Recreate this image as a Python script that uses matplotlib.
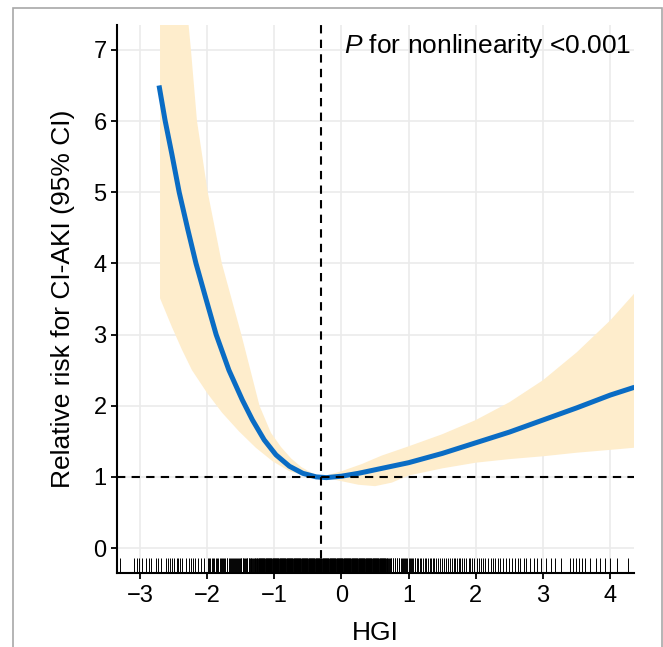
import numpy as np
import matplotlib
matplotlib.use("Agg")
import matplotlib.pyplot as plt
import matplotlib.transforms as mtransforms
from matplotlib.patches import Rectangle

plt.rcParams['font.family'] = ['Liberation Sans', 'DejaVu Sans']
plt.rcParams['mathtext.fontset'] = 'custom'
plt.rcParams['mathtext.rm'] = 'Liberation Sans'
plt.rcParams['mathtext.it'] = 'Liberation Sans:italic'

##### spline estimate
curve_x = [-2.715, -2.625, -2.525, -2.415, -2.285, -2.165, -2.025, -1.865, -1.675, -1.475,
           -1.325, -1.15, -0.975, -0.775, -0.575, -0.375, -0.225, 0.0, 0.25, 0.5, 0.75,
           1.0, 1.5, 2.0, 2.5, 3.0, 3.5, 4.0, 4.36]
curve_y = [6.50, 6.01, 5.54, 5.00, 4.47, 4.00, 3.53, 3.00, 2.50, 2.08,
           1.80, 1.52, 1.31, 1.15, 1.05, 1.00, 0.99, 1.01, 1.05, 1.10, 1.15,
           1.20, 1.33, 1.48, 1.63, 1.80, 1.97, 2.15, 2.26]

##### 95% CI, upper and lower edges
upper_x = [-2.70, -2.50, -2.40, -2.275, -2.24, -2.15, -1.99, -1.78, -1.49, -1.22,
           -1.05, -0.90, -0.75, -0.60, -0.45, -0.30, 0.0, 0.3, 0.6, 1.0, 1.5, 2.0, 2.5,
           3.0, 3.5, 4.0, 4.36]
upper_y = [11.5, 9.0, 8.2, 7.35, 7.0, 6.0, 5.0, 4.0, 3.0, 2.0,
           1.62, 1.42, 1.26, 1.14, 1.06, 1.00, 1.08, 1.18, 1.30, 1.43, 1.60, 1.80, 2.05,
           2.36, 2.75, 3.20, 3.58]
lower_x = [-2.70, -2.525, -2.375, -2.225, -2.0, -1.775, -1.525, -1.275, -1.025, -0.775,
           -0.525, -0.30, 0.0, 0.25, 0.5, 0.75, 1.0, 1.5, 2.0, 2.5, 3.0, 3.5, 4.0, 4.36]
lower_y = [3.51, 3.11, 2.79, 2.50, 2.18, 1.90, 1.64, 1.41, 1.22, 1.08,
           1.01, 1.00, 0.94, 0.89, 0.87, 0.92, 1.02, 1.12, 1.20, 1.25, 1.29, 1.34, 1.38, 1.41]

ref_x = -0.30  # reference HGI value
ref_y = 1.0

##### rug (observed HGI values)
rug_sparse = [-3.30, -3.09, -3.05, -3.01, -2.97, -2.91, -2.86, -2.83, -2.76, -2.73, -2.69,
              -2.61, -2.58, -2.55, -2.52, -2.49, -2.45, -2.43, -2.40, -2.37, -2.31, -2.27,
              -2.24, -2.21, -2.18, -2.13, -2.09, -2.05, -1.99, -1.97, -1.95, -1.93, -1.91,
              -1.89, -1.87, -1.85, -1.83, -1.81, -1.80, -1.78, -1.76, -1.75, -1.73, -1.71,
              -1.70, -1.68, -1.66, -1.65, -1.63, -1.62, -1.60, -1.59, -1.57, -1.56, -1.54,
              -1.53, -1.51, -1.50, -1.49, -1.47, -1.46, -1.45, -1.43, -1.42, -1.41, -1.40,
              -1.38, -1.37, -1.36, -1.35, -1.34, -1.33, -1.31, -1.30, -1.29, -1.28, -1.27,
              -1.26,
              0.69, 0.70, 0.72, 0.73, 0.74, 0.76, 0.77, 0.79, 0.80, 0.82, 0.83, 0.85, 0.86,
              0.88, 0.90, 0.91, 0.93, 0.95, 0.96, 0.98, 1.00, 1.02, 1.03, 1.05, 1.07, 1.09,
              1.10, 1.12, 1.14, 1.17, 1.19, 1.21, 1.24, 1.26, 1.28, 1.31, 1.33, 1.36, 1.38,
              1.41, 1.44, 1.46, 1.49, 1.52, 1.55, 1.58, 1.61, 1.64, 1.67, 1.69, 1.72, 1.75,
              1.77, 1.80, 1.83, 1.86, 1.89, 1.91, 1.94, 1.97, 2.01, 2.04, 2.07, 2.11, 2.14,
              2.18, 2.22, 2.25, 2.29, 2.33, 2.36, 2.41, 2.45, 2.50, 2.54, 2.58, 2.63, 2.66,
              2.71, 2.75, 2.80, 2.86, 2.91, 2.97, 3.05, 3.12, 3.18, 3.27, 3.40, 3.45, 3.49,
              3.53, 3.58, 3.62, 3.70, 3.78, 3.85, 3.92, 4.00, 4.10, 4.27]
rug_solid_from = -1.25  # the rug is solid black between these
rug_solid_to = 0.68

x_ticks = [-3, -2, -1, 0, 1, 2, 3, 4]
y_ticks = [0, 1, 2, 3, 4, 5, 6, 7]

fig = plt.figure(figsize=(6.63, 6.47), dpi=100)
ax = fig.add_axes([0.1765, 0.1144, 0.7795, 0.847])

#####CI band as one polygon: upper edge out, lower edge back
band_px = list(upper_x) + list(lower_x[::-1])
band_py = list(upper_y) + list(lower_y[::-1])
ax.fill(band_px, band_py, color='#FEEDCC', lw=0, zorder=2)
ax.plot(curve_x, curve_y, color='#0A6CC4', lw=3.6, solid_capstyle='butt',
        solid_joinstyle='round', zorder=4)

ax.axvline(ref_x, color='black', lw=1.5, ls=(0, (4, 3)), zorder=5)
ax.axhline(ref_y, color='black', lw=1.5, ls=(0, (4, 3)), zorder=5)

#####rug along the bottom
rug_all = list(rug_sparse) + list(np.arange(rug_solid_from, rug_solid_to, 0.008))
trans = mtransforms.blended_transform_factory(ax.transData, ax.transAxes)
ax.vlines(rug_all, 0, 0.028, transform=trans, color='black', lw=0.7, zorder=3)

ax.set_xlim(-3.34, 4.35)
ax.set_ylim(-0.35, 7.35)
ax.set_xticks(x_ticks)
ax.set_yticks(y_ticks)
ax.set_xticklabels([str(t).replace('-', '\u2212') for t in x_ticks])
ax.grid(True, color='#EBEBEB', lw=1.2, zorder=0)
ax.set_axisbelow(True)

for side in ['top', 'right']:
    ax.spines[side].set_visible(False)
for side in ['left', 'bottom']:
    ax.spines[side].set_linewidth(1.5)
ax.tick_params(axis='both', length=4, width=1.3, labelsize=17, colors='black')
ax.tick_params(axis='x', pad=5)

ax.set_xlabel('HGI', fontsize=19, labelpad=10)
ax.set_ylabel('Relative risk for CI-AKI (95% CI)', fontsize=19, labelpad=13)

ax.text(0.995, 0.962, r'$\it{P}$ for nonlinearity <0.001', transform=ax.transAxes,
        ha='right', va='center', fontsize=19)

##### grey frame round the figure
fig.patches.append(Rectangle((13 / 663, -0.05), 649 / 663, 1.05 - 8 / 647,
                             transform=fig.transFigure, fill=False,
                             edgecolor='#A8A8A8', lw=1.2))

fig.savefig('out.png', dpi=100)
